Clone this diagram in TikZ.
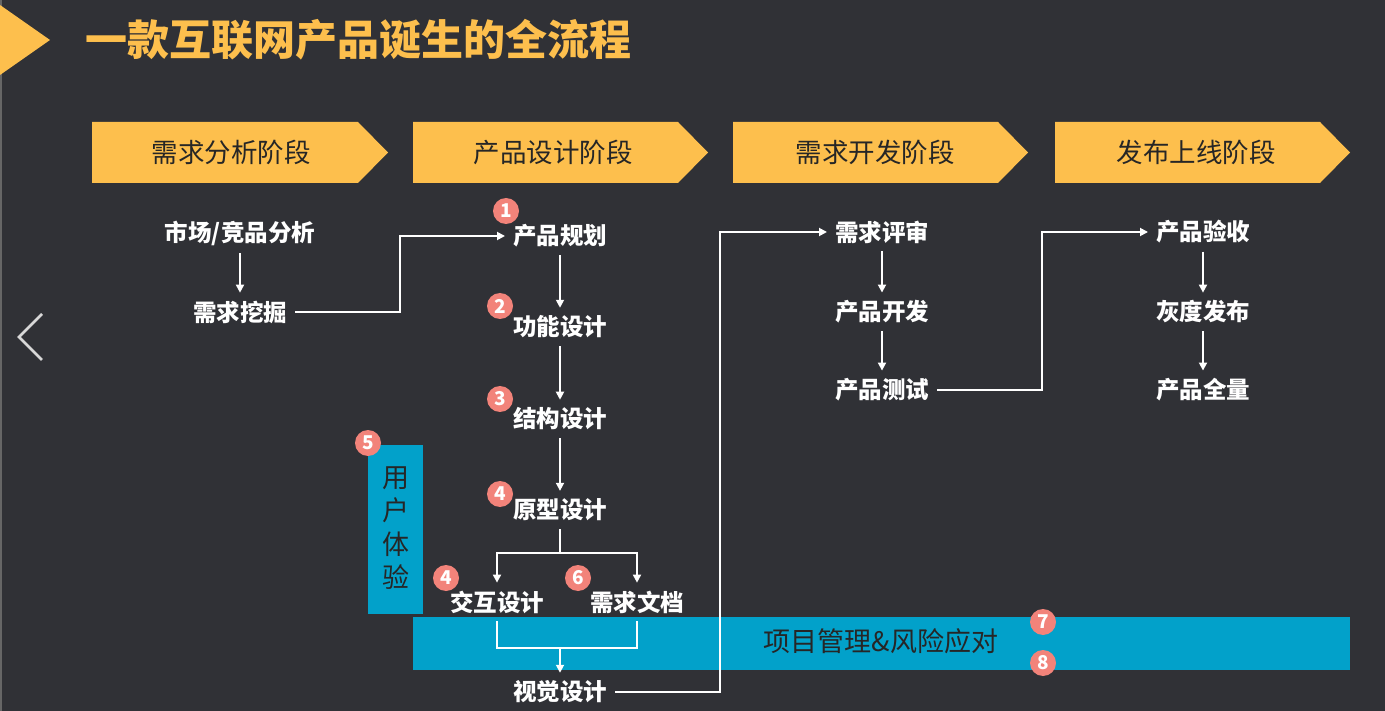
\documentclass[tikz,border=0pt]{standalone}
\usepackage{fontspec}
\newfontfamily\cjk{Noto Sans CJK SC}
\usetikzlibrary{arrows.meta}
\definecolor{bg}{HTML}{303136}
\definecolor{stagey}{HTML}{FDBF4D}
\definecolor{barblue}{HTML}{02A1CA}
\definecolor{numred}{HTML}{F2837A}
\definecolor{chev}{HTML}{D8D8D8}
\tikzset{
  lbl/.style={text=white,font=\cjk\bfseries\fontsize{23.5}{27}\selectfont,inner sep=8pt,outer sep=0pt},
  stagelbl/.style={text=black!85,font=\cjk\fontsize{26.5}{30}\selectfont,inner sep=0pt},
  stagebox/.style={fill=stagey},
  num/.style={circle,fill=numred,text=white,minimum size=26pt,inner sep=0pt,font=\cjk\bfseries\fontsize{19}{20}\selectfont},
  conn/.style={white,line width=1.8pt},
  arr/.style={conn,-{Triangle[length=8pt,width=8pt]}},
}
\begin{document}
\begin{tikzpicture}[x=1pt,y=-1pt]
\fill[bg] (0,0) rectangle (1385,711);
\useasboundingbox (0,0) rectangle (1385,711);
\draw[black!60,line width=2pt] (1,0) -- (1,711);
% title
\fill[stagey] (0,5) -- (50,40) -- (0,75) -- cycle;
\node[anchor=west,inner sep=0pt,text=stagey,font=\cjk\bfseries\fontsize{42}{46}\selectfont] (title) at (85,40) {一款互联网产品诞生的全流程};
% chevron
\draw[chev,line width=2.5pt] (42,314) -- (19,337) -- (42,360);
% stages
\fill[stagebox] (92,122) -- (358,122) -- (388,152.5) -- (358,183) -- (92,183) -- cycle;
\fill[stagebox] (413,122) -- (678,122) -- (708,152.5) -- (678,183) -- (413,183) -- cycle;
\fill[stagebox] (733,122) -- (998,122) -- (1028,152.5) -- (998,183) -- (733,183) -- cycle;
\fill[stagebox] (1055,122) -- (1320,122) -- (1350,152.5) -- (1320,183) -- (1055,183) -- cycle;
\node[stagelbl] (s1) at (231,152) {需求分析阶段};
\node[stagelbl] (s2) at (553,152) {产品设计阶段};
\node[stagelbl] (s3) at (875,152) {需求开发阶段};
\node[stagelbl] (s4) at (1196,152) {发布上线阶段};
% blue boxes
\fill[barblue] (368,445) rectangle (423,614);
\node[text=black!85,font=\cjk\fontsize{27}{33.5}\selectfont,align=center,inner sep=0pt] (ux) at (396,528) {用\\户\\体\\验};
\fill[barblue] (413,617) rectangle (1350,670);
\node[text=black!85,font=\cjk\fontsize{27}{30}\selectfont,inner sep=0pt] (pm) at (881,641) {项目管理\&风险应对};
% column 1
\node[lbl] (sc) at (240,233) {市场/竞品分析};
\node[lbl] (wj) at (240,312) {需求挖掘};
% column 2
\node[lbl] (gh) at (560,236) {产品规划};
\node[lbl] (gn) at (560,327) {功能设计};
\node[lbl] (jg) at (560,419) {结构设计};
\node[lbl] (yx) at (560,510) {原型设计};
\node[lbl] (jh) at (497,602) {交互设计};
\node[lbl] (wd) at (637,602) {需求文档};
\node[lbl] (sj) at (560,692) {视觉设计};
% column 3
\node[lbl] (ps) at (882,232) {需求评审};
\node[lbl] (kf) at (882,312) {产品开发};
\node[lbl] (cs) at (882,390) {产品测试};
% column 4
\node[lbl] (ys) at (1203,232) {产品验收};
\node[lbl] (hd) at (1203,312) {灰度发布};
\node[lbl] (ql) at (1203,390) {产品全量};
% connectors
\coordinate (k1) at (400,312);
\coordinate (b1) at (560,553);
\coordinate (b2) at (560,648);
\coordinate (k2) at (720,692);
\coordinate (k3) at (1042,390);
\draw[arr] (sc) -- (wj);
\draw[arr] (wj.east) -- (k1) |- (gh.west);
\draw[arr] (gh) -- (gn);
\draw[arr] (gn) -- (jg);
\draw[arr] (jg) -- (yx);
\draw[conn] (yx.south) -- (b1);
\draw[arr] (b1) -| (jh.north);
\draw[arr] (b1) -| (wd.north);
\draw[conn] (jh.south) |- (b2) -| (wd.south);
\draw[arr] (b2) -- (sj.north);
\draw[arr] (sj.east) -- (k2) |- (ps.west);
\draw[arr] (ps) -- (kf);
\draw[arr] (kf) -- (cs);
\draw[arr] (cs.east) -- (k3) |- (ys.west);
\draw[arr] (ys) -- (hd);
\draw[arr] (hd) -- (ql);
% numbers
\node[num] (n1) at (506,211) {1};
\node[num] (n2) at (500,306) {2};
\node[num] (n3) at (500,399) {3};
\node[num] (n4) at (500,494) {4};
\node[num] (n5) at (368,443) {5};
\node[num] (n4b) at (446,578) {4};
\node[num] (n6) at (578,578) {6};
\node[num] (n7) at (1043,622) {7};
\node[num] (n8) at (1043,663) {8};
\end{tikzpicture}
\end{document}
